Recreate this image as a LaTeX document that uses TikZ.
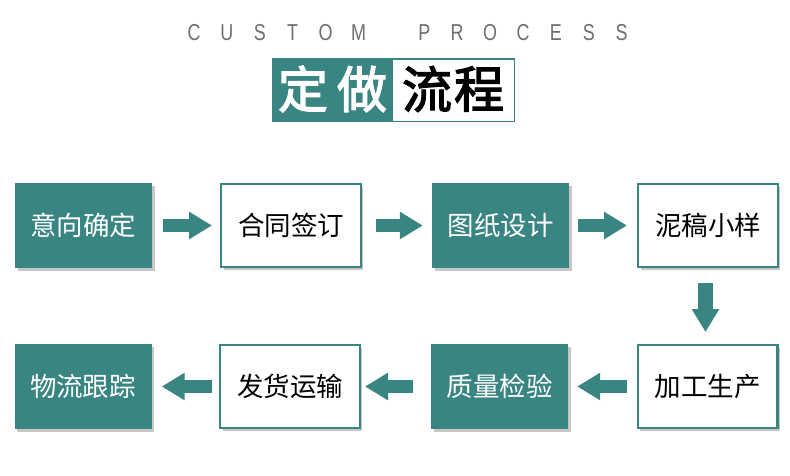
\documentclass[tikz,border=0pt]{standalone}
\usepackage{fontspec}
\newfontfamily\cjk{Noto Sans CJK SC}
\newfontfamily\cjkb{Noto Sans CJK SC}[FakeBold=2.5]
\newfontfamily\capfont{Liberation Sans}
\usetikzlibrary{arrows.meta,shadows,calc}
\definecolor{teal1}{RGB}{56,133,130}
\definecolor{capgray}{RGB}{110,110,110}
\begin{document}
\begin{tikzpicture}[x=1pt,y=-1pt,
  shad/.style={drop shadow={shadow xshift=2.5pt,shadow yshift=-3pt,opacity=.22,fill=black}},
  fillbox/.style={shad,fill=teal1,text=white,minimum width=137pt,minimum height=85pt,inner sep=0pt,font=\cjk\fontsize{26.5}{30}\selectfont},
  linebox/.style={shad,fill=white,draw=teal1,line width=2.2pt,text=black,minimum width=139.8pt,minimum height=82.8pt,inner sep=0pt,font=\cjk\fontsize{26.5}{30}\selectfont},
  flow/.style={draw=teal1,line width=13pt,-{Triangle[width=26pt,length=23pt]}},
  capletter/.style={text=capgray,inner sep=0pt,font=\capfont\fontsize{23}{26}\selectfont},
  titlechar/.style={inner sep=0pt,font=\cjkb\fontsize{50}{56}\selectfont}]
\fill[white] (0,0) rectangle (790,475);
\useasboundingbox (0,0) rectangle (790,475);

% heading letters
\foreach \ch/\i in {C/0,U/1,S/2,T/3,O/4,M/5,P/7,R/8,O/9,C/10,E/11,S/12,S/13}
  \node[capletter] (l\i) at (194+32.9*\i,33) {\scalebox{0.78}[1]{\ch}};

% title box
\node[fill=teal1,minimum width=121pt,minimum height=64pt,inner sep=0pt] (tl) at (332.5,90) {};
\node[fill=white,draw=teal1,line width=1.5pt,minimum width=122pt,minimum height=62.5pt,inner sep=0pt] (tr) at (453.5,90) {};
\node[titlechar,text=white] (c1) at (303,89) {定};
\node[titlechar,text=white] (c2) at (362,89) {做};
\node[titlechar,text=black] (c3) at (427,89) {流};
\node[titlechar,text=black] (c4) at (479,89) {程};

% boxes
\node[fillbox] (b1) at (83.5,225.5) {意向确定};
\node[linebox] (b2) at (291,225.5) {合同签订};
\node[fillbox] (b3) at (500.5,225.5) {图纸设计};
\node[linebox] (b4) at (708,225.5) {泥稿小样};
\node[linebox] (b5) at (707.5,386.5) {加工生产};
\node[fillbox] (b6) at (499.5,386.5) {质量检验};
\node[linebox] (b7) at (290,386.5) {发货运输};
\node[fillbox] (b8) at (83,386.5) {物流跟踪};

% arrows
\draw[flow] ($(b1.east)+(11,0)$) -- ($(b2.west)+(-8,0)$);
\draw[flow] ($(b2.east)+(14,0)$) -- ($(b3.west)+(-9,0)$);
\draw[flow] ($(b3.east)+(9,0)$) -- ($(b4.west)+(-10,0)$);
\draw[flow,line width=15pt] ($(b4.south)+(-2.5,15)$) -- ($(b5.south |- b5.north)+(-2,-12)$);
\draw[flow] ($(b5.west)+(-10,0)$) -- ($(b6.east)+(9,0)$);
\draw[flow] ($(b6.west)+(-18,0)$) -- ($(b7.east)+(4,0)$);
\draw[flow] ($(b7.west)+(-7,0)$) -- ($(b8.east)+(10,0)$);
\end{tikzpicture}
\end{document}
